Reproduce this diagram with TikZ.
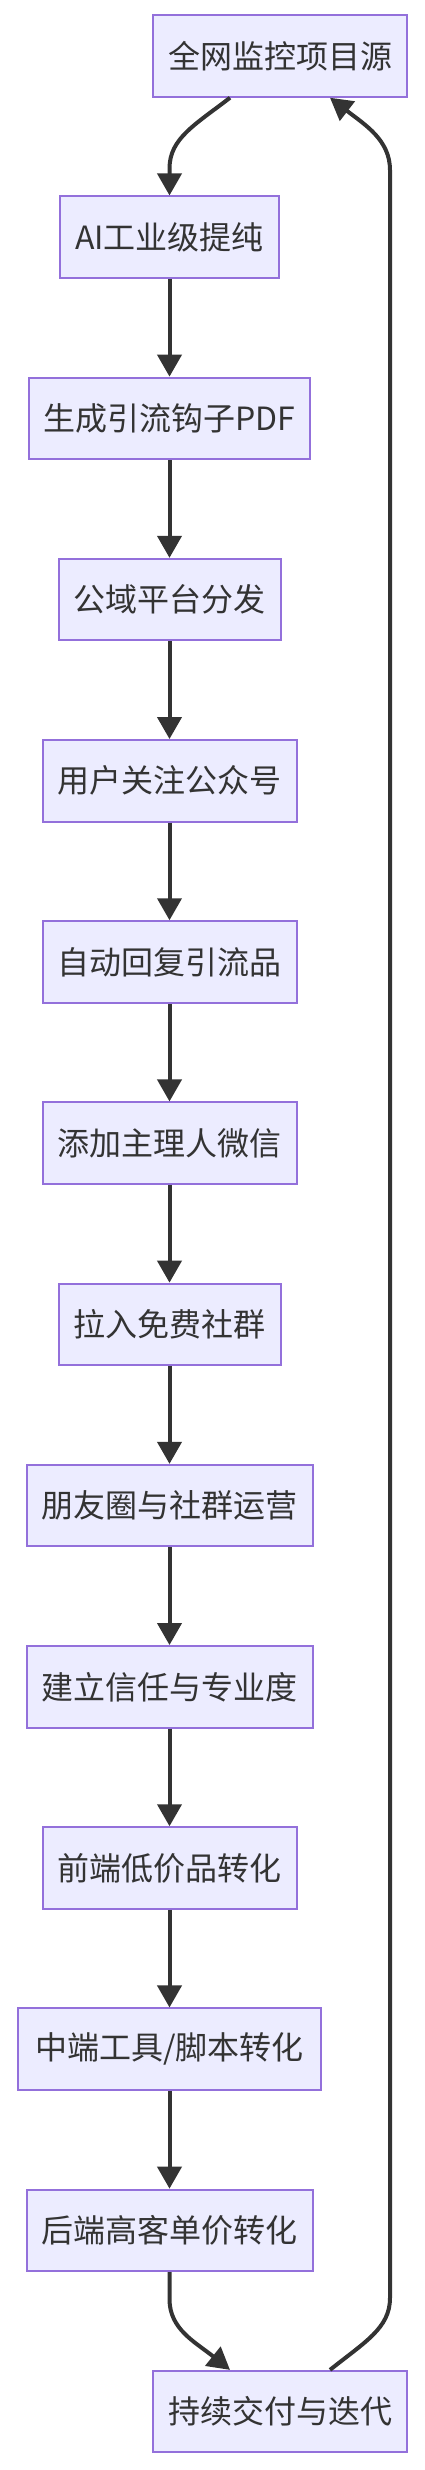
\documentclass[tikz,border=0pt]{standalone}
\usepackage{fontspec}
\newfontfamily\cjk{Noto Sans CJK SC}
\usetikzlibrary{arrows.meta}
\definecolor{nodefill}{HTML}{ECECFF}
\definecolor{nodeborder}{HTML}{9370DB}
\definecolor{ink}{HTML}{333333}
\tikzset{
  box/.style={draw=nodeborder, fill=nodefill, line width=2pt, minimum height=81.5pt,
    inner xsep=15pt, inner ysep=0pt, text=ink, font=\cjk\fontsize{32}{38}\selectfont},
  arr/.style={draw=ink, line width=4pt, -{Triangle[width=24pt,length=22pt]}}
}
\begin{document}
\begin{tikzpicture}[x=1pt,y=1pt]
\useasboundingbox (0,0) rectangle (424,-2470);
\node[box, minimum width=254pt] (n1) at (280,-56) {全网监控项目源};
\node[box, minimum width=218pt] (n2) at (169.5,-237.2) {AI工业级提纯};
\node[box, minimum width=277pt] (n3) at (169.5,-418.4) {生成引流钩子PDF};
\node[box, minimum width=222pt] (n4) at (169.5,-599.6) {公域平台分发};
\node[box, minimum width=254pt] (n5) at (169.5,-780.8) {用户关注公众号};
\node[box, minimum width=254pt] (n6) at (169.5,-962) {自动回复引流品};
\node[box, minimum width=254pt] (n7) at (169.5,-1143.2) {添加主理人微信};
\node[box, minimum width=222pt] (n8) at (169.5,-1324.4) {拉入免费社群};
\node[box, minimum width=286pt] (n9) at (169.5,-1505.6) {朋友圈与社群运营};
\node[box, minimum width=286pt] (n10) at (169.5,-1686.8) {建立信任与专业度};
\node[box, minimum width=254pt] (n11) at (169.5,-1868) {前端低价品转化};
\node[box, minimum width=303pt] (n12) at (169.5,-2049.2) {中端工具/脚本转化};
\node[box, minimum width=286pt] (n13) at (169.5,-2230.4) {后端高客单价转化};
\node[box, minimum width=254pt] (n14) at (280,-2411.6) {持续交付与迭代};

\coordinate (loopTop) at (390,-170);
\coordinate (loopBot) at (390,-2298);

\draw[arr] ([xshift=-50pt]n1.south) .. controls +(-35,-27) and +(0,30) .. ([yshift=27pt]n2.north) -- (n2.north);
\foreach \a/\b in {n2/n3,n3/n4,n4/n5,n5/n6,n6/n7,n7/n8,n8/n9,n9/n10,n10/n11,n11/n12,n12/n13}{
  \draw[arr] (\a.south) -- (\b.north);
}
\draw[arr] (n13.south) -- ([yshift=-27pt]n13.south) .. controls +(0,-30) and +(-35,28) .. ([xshift=-50pt]n14.north);
\draw[arr] ([xshift=50pt]n14.north) .. controls +(35,28) and +(0,-30) .. (loopBot) -- (loopTop) .. controls +(0,30) and +(35,-27) .. ([xshift=50pt]n1.south);
\end{tikzpicture}
\end{document}
